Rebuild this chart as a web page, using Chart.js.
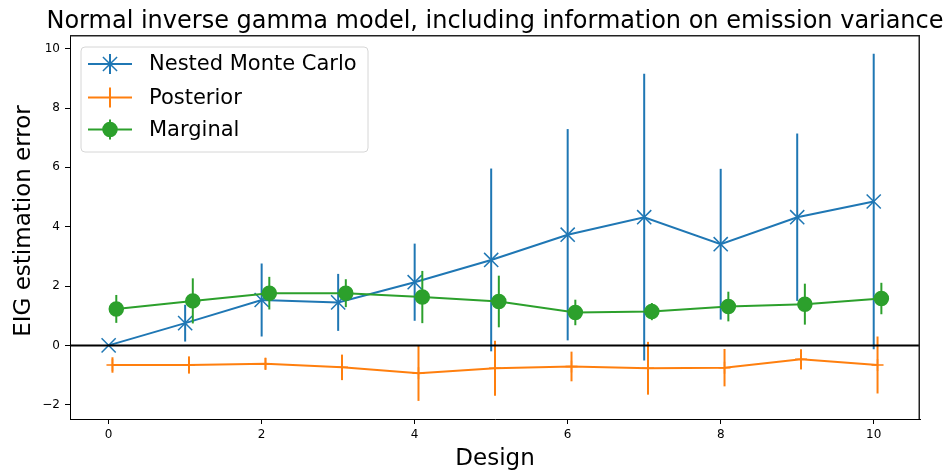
<!DOCTYPE html>
<html>
<head>
<meta charset="utf-8">
<script src="https://cdn.jsdelivr.net/npm/chart.js@4.4.1/dist/chart.umd.min.js"></script>
<style>
  html, body { margin: 0; padding: 0; background: #fff; }
  #wrap { width: 949px; height: 475px; position: relative; }
</style>
</head>
<body>
<div id="wrap"><canvas id="c" width="949" height="475"></canvas></div>
<script>
// Design indices and per-series offsets along x
const designs = [0, 1, 2, 3, 4, 5, 6, 7, 8, 9, 10];
const seriesNames = ['Nested Monte Carlo', 'Posterior', 'Marginal'];
const seriesOffsets = [0, 0.05, 0.1];
const seriesColors = ['#1f77b4', '#ff7f0e', '#2ca02c'];

// EIG estimation error: mean and error-bar half-width per design
const nmcMean  = [0.00, 0.75, 1.53, 1.45, 2.13, 2.88, 3.73, 4.32, 3.41, 4.32, 4.85];
const nmcErr   = [0.02, 0.62, 1.23, 0.96, 1.30, 3.08, 3.56, 4.83, 2.54, 2.82, 4.98];
const postMean = [-0.66, -0.66, -0.62, -0.74, -0.94, -0.77, -0.71, -0.77, -0.75, -0.47, -0.66];
const postErr  = [0.26, 0.29, 0.20, 0.43, 0.93, 0.93, 0.50, 0.89, 0.63, 0.34, 0.96];
const margMean = [1.23, 1.50, 1.76, 1.76, 1.63, 1.48, 1.11, 1.14, 1.31, 1.39, 1.58];
const margErr  = [0.47, 0.76, 0.55, 0.47, 0.88, 0.87, 0.43, 0.29, 0.50, 0.69, 0.53];

// Axis ticks and labels
const xTicks = [0, 2, 4, 6, 8, 10];
const yTicks = [-2, 0, 2, 4, 6, 8, 10];
const titleText = 'Normal inverse gamma model, including information on emission variance';
const xLabel = 'Design';
const yLabel = 'EIG estimation error';

const FONT = "'DejaVu Sans', sans-serif";

function points(mean, err, off) {
  return designs.map((d, i) => ({ x: d + off, y: mean[i], e: err[i] }));
}

const means = [nmcMean, postMean, margMean];
const errs = [nmcErr, postErr, margErr];
const styles = [
  { pointStyle: 'crossRot', radius: 10 },
  { pointStyle: 'cross', radius: 6 },
  { pointStyle: 'circle', radius: 7 }
];

const datasets = seriesNames.map((name, k) => ({
  label: name,
  data: points(means[k], errs[k], seriesOffsets[k]),
  borderColor: seriesColors[k],
  backgroundColor: seriesColors[k],
  pointBackgroundColor: seriesColors[k],
  pointBorderColor: seriesColors[k],
  pointStyle: styles[k].pointStyle,
  pointRadius: styles[k].radius,
  pointBorderWidth: 1.5,
  borderWidth: 2,
  showLine: true,
  tension: 0,
  fill: false,
  order: 3 - k
}));

// Vertical error bars drawn under each dataset's line and markers
const errorBars = {
  id: 'errorBars',
  beforeDatasetDraw(chart, args) {
    const ds = chart.data.datasets[args.index];
    const xs = chart.scales.x, ys = chart.scales.y;
    const ctx = chart.ctx;
    ctx.save();
    ctx.strokeStyle = ds.borderColor;
    ctx.lineWidth = 2;
    ds.data.forEach(p => {
      const px = xs.getPixelForValue(p.x);
      ctx.beginPath();
      ctx.moveTo(px, ys.getPixelForValue(p.y - p.e));
      ctx.lineTo(px, ys.getPixelForValue(p.y + p.e));
      ctx.stroke();
    });
    ctx.restore();
  }
};

function drawMarker(ctx, style, x, y, r, color) {
  ctx.save();
  ctx.strokeStyle = color;
  ctx.fillStyle = color;
  ctx.lineWidth = 1.5;
  Chart.helpers.drawPoint(ctx, { pointStyle: style, radius: r, rotation: 0, borderWidth: 1.5 }, x, y);
  ctx.restore();
}

// Zero line, frame, titles and legend
const decorations = {
  id: 'decorations',
  afterDatasetsDraw(chart) {
    const { ctx, chartArea: a, scales: { y } } = chart;
    ctx.save();
    const y0 = y.getPixelForValue(0);
    ctx.strokeStyle = '#000';
    ctx.lineWidth = 2;
    ctx.beginPath();
    ctx.moveTo(a.left, y0);
    ctx.lineTo(a.right, y0);
    ctx.stroke();
    ctx.restore();
  },
  afterDraw(chart) {
    const { ctx, chartArea: a } = chart;
    ctx.save();
    // axes frame (top and right edges; left and bottom come from the scale borders)
    ctx.fillStyle = '#222';
    ctx.fillRect(a.left, a.top, a.right - a.left, 1.5);
    ctx.fillRect(a.right - 1.5, a.top, 1.5, a.bottom - a.top);

    ctx.fillStyle = '#000';
    ctx.textAlign = 'center';
    ctx.textBaseline = 'alphabetic';
    // title
    ctx.font = '24px ' + FONT;
    ctx.fillText(titleText, (a.left + a.right) / 2, 28);
    // x label
    ctx.font = '23px ' + FONT;
    ctx.fillText(xLabel, (a.left + a.right) / 2, 465);
    // y label
    ctx.save();
    ctx.translate(30, 221);
    ctx.rotate(-Math.PI / 2);
    ctx.fillText(yLabel, 0, 0);
    ctx.restore();

    // legend box
    const bx = 81, by = 47, bw = 287, bh = 105, r = 4;
    ctx.beginPath();
    ctx.moveTo(bx + r, by);
    ctx.arcTo(bx + bw, by, bx + bw, by + bh, r);
    ctx.arcTo(bx + bw, by + bh, bx, by + bh, r);
    ctx.arcTo(bx, by + bh, bx, by, r);
    ctx.arcTo(bx, by, bx + bw, by, r);
    ctx.closePath();
    ctx.fillStyle = 'rgba(255,255,255,0.8)';
    ctx.fill();
    ctx.strokeStyle = '#d6d6d6';
    ctx.lineWidth = 1;
    ctx.stroke();

    const rows = [64, 97.5, 129.5];
    const legendMarkerR = [10, 10, 7];
    seriesNames.forEach((name, k) => {
      const cy = rows[k], c = seriesColors[k];
      ctx.strokeStyle = c;
      ctx.lineWidth = 2;
      ctx.beginPath();
      ctx.moveTo(88, cy); ctx.lineTo(132, cy);
      ctx.moveTo(110, cy - 10); ctx.lineTo(110, cy + 10);
      ctx.stroke();
      if (k !== 1) drawMarker(ctx, styles[k].pointStyle, 110, cy, legendMarkerR[k], c);
      ctx.fillStyle = '#000';
      ctx.textAlign = 'left';
      ctx.textBaseline = 'middle';
      ctx.font = '21px ' + FONT;
      ctx.fillText(name, 149, cy + 1);
    });
    ctx.restore();
  }
};

new Chart(document.getElementById('c'), {
  type: 'scatter',
  data: { datasets },
  plugins: [errorBars, decorations],
  options: {
    responsive: false,
    animation: false,
    events: [],
    layout: { padding: { top: 35, right: 29, left: 0, bottom: 0 } },
    plugins: { legend: { display: false }, tooltip: { enabled: false }, title: { display: false } },
    scales: {
      x: {
        type: 'linear',
        min: -0.505,
        max: 10.605,
        afterBuildTicks(s) { s.ticks = xTicks.map(v => ({ value: v })); },
        afterFit(s) { s.height = 56; },
        grid: { drawOnChartArea: false, drawTicks: true, tickLength: 5, color: '#000' },
        border: { display: true, color: '#000' },
        ticks: { color: '#000', font: { family: FONT, size: 12 }, padding: 4, maxRotation: 0 }
      },
      y: {
        type: 'linear',
        min: -2.48,
        max: 10.46,
        afterBuildTicks(s) { s.ticks = yTicks.map(v => ({ value: v })); },
        afterFit(s) { s.width = 70; },
        grid: { drawOnChartArea: false, drawTicks: true, tickLength: 5, color: '#000' },
        border: { display: true, color: '#000' },
        ticks: { color: '#000', font: { family: FONT, size: 12 }, padding: 5,
                 callback: v => (v < 0 ? '\u2212' + Math.abs(v) : String(v)) }
      }
    }
  }
});
</script>
</body>
</html>
